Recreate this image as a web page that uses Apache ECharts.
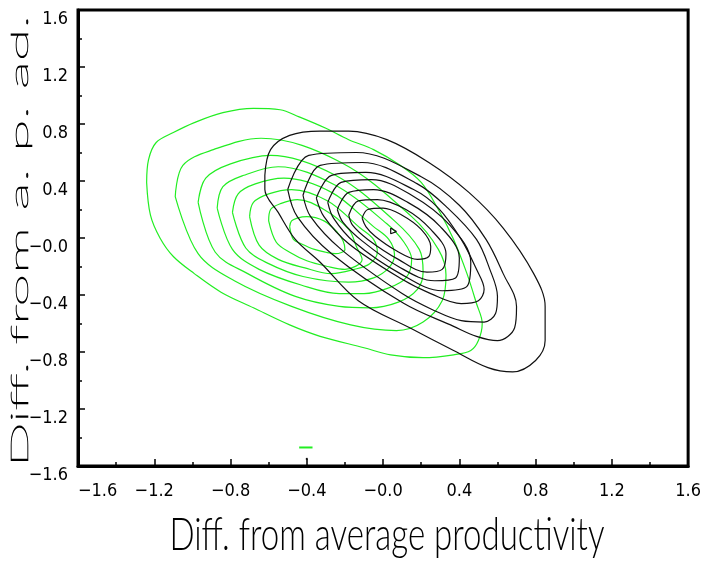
<!DOCTYPE html>
<html>
<head>
<meta charset="utf-8">
<script src="https://cdn.jsdelivr.net/npm/echarts@6/dist/echarts.min.js"></script>
<style>
  html, body { margin: 0; padding: 0; background: #fff; }
  #chart { width: 704px; height: 561px; }
</style>
</head>
<body>
<div id="chart"></div>
<script>
// tick labels of both axes
const xTickLabels = ['−1.6', '−1.2', '−0.8', '−0.4', '−0.0', '0.4', '0.8', '1.2', '1.6']
const yTickLabels = ['−1.6', '−1.2', '−0.8', '−0.4', '−0.0', '0.4', '0.8', '1.2', '1.6']

// green contours, outer to inner  [x, y]
const green1 = [[-1.24,0.39],[-1.23,0.55],[-1.19,0.67],[-1.10,0.74],[-0.99,0.81],[-0.84,0.88],[-0.68,0.91],[-0.54,0.90],[-0.44,0.85],[-0.30,0.77],[-0.18,0.69],[-0.05,0.62],[0.09,0.51],[0.20,0.39],[0.29,0.20],[0.37,-0.01],[0.44,-0.25],[0.49,-0.46],[0.52,-0.60],[0.50,-0.72],[0.46,-0.79],[0.37,-0.82],[0.21,-0.84],[0.04,-0.82],[-0.10,-0.77],[-0.33,-0.69],[-0.49,-0.61],[-0.68,-0.49],[-0.85,-0.38],[-0.99,-0.25],[-1.10,-0.13],[-1.17,0.00],[-1.22,0.16]]
const green2 = [[-1.09,0.29],[-1.05,0.51],[-0.89,0.62],[-0.64,0.70],[-0.22,0.53],[0.15,0.15],[0.29,-0.08],[0.33,-0.26],[0.31,-0.44],[0.21,-0.59],[0.07,-0.65],[-0.17,-0.61],[-0.48,-0.48],[-0.78,-0.30],[-0.97,-0.11]]
const green3 = [[-0.97,0.25],[-0.93,0.42],[-0.80,0.52],[-0.59,0.58],[-0.25,0.44],[0.06,0.12],[0.19,-0.08],[0.21,-0.24],[0.18,-0.36],[0.08,-0.45],[-0.07,-0.49],[-0.23,-0.48],[-0.46,-0.41],[-0.71,-0.25],[-0.88,-0.10]]
const green4 = [[-0.87,0.21],[-0.84,0.36],[-0.73,0.44],[-0.55,0.50],[-0.25,0.37],[0.02,0.10],[0.11,-0.03],[0.15,-0.15],[0.12,-0.28],[0.03,-0.35],[-0.10,-0.39],[-0.23,-0.39],[-0.43,-0.33],[-0.65,-0.22],[-0.79,-0.08]]
const green5 = [[-0.79,0.18],[-0.76,0.31],[-0.67,0.38],[-0.52,0.42],[-0.27,0.32],[-0.05,0.08],[0.03,-0.01],[0.06,-0.12],[0.03,-0.21],[-0.05,-0.28],[-0.18,-0.31],[-0.42,-0.27],[-0.60,-0.18],[-0.72,-0.07]]
const green6 = [[-0.70,0.15],[-0.68,0.25],[-0.60,0.31],[-0.48,0.34],[-0.29,0.26],[-0.12,0.07],[-0.05,-0.01],[-0.03,-0.10],[-0.07,-0.18],[-0.15,-0.22],[-0.27,-0.25],[-0.41,-0.21],[-0.55,-0.15],[-0.65,-0.05]]
const green7 = [[-0.60,0.12],[-0.59,0.20],[-0.54,0.24],[-0.45,0.27],[-0.31,0.20],[-0.18,0.06],[-0.14,-0.06],[-0.11,-0.15],[-0.20,-0.22],[-0.29,-0.20],[-0.40,-0.16],[-0.49,-0.10],[-0.56,-0.03]]
const green8 = [[-0.49,0.08],[-0.48,0.12],[-0.45,0.14],[-0.40,0.15],[-0.31,0.12],[-0.24,0.04],[-0.21,-0.02],[-0.20,-0.08],[-0.25,-0.11],[-0.30,-0.10],[-0.36,-0.08],[-0.43,-0.04],[-0.47,-0.01]]
const greenDash = [[-0.44,-1.47],[-0.37,-1.47]]

// black contours, outer to inner
const black1 = [[-0.62,0.44],[-0.59,0.62],[-0.49,0.72],[-0.33,0.75],[-0.18,0.75],[0.02,0.69],[0.24,0.53],[0.45,0.32],[0.63,0.07],[0.79,-0.25],[0.85,-0.48],[0.85,-0.72],[0.80,-0.86],[0.68,-0.94],[0.55,-0.91],[0.37,-0.79],[0.14,-0.63],[-0.13,-0.44],[-0.33,-0.17],[-0.46,-0.01],[-0.55,0.18],[-0.62,0.34]]
const black2 = [[-0.50,0.34],[-0.39,0.58],[-0.14,0.60],[0.20,0.43],[0.40,0.23],[0.54,-0.01],[0.63,-0.25],[0.70,-0.48],[0.69,-0.63],[0.60,-0.72],[0.49,-0.69],[0.37,-0.62],[0.11,-0.46],[-0.27,-0.11],[-0.45,0.15]]
const black3 = [[-0.42,0.30],[-0.33,0.51],[-0.11,0.53],[0.18,0.38],[0.34,0.21],[0.49,-0.01],[0.56,-0.22],[0.60,-0.41],[0.59,-0.53],[0.53,-0.59],[0.41,-0.58],[0.27,-0.51],[0.10,-0.39],[-0.22,-0.08],[-0.38,0.15]]
const black4 = [[-0.35,0.28],[-0.27,0.44],[-0.09,0.46],[0.16,0.34],[0.29,0.21],[0.41,-0.01],[0.49,-0.22],[0.53,-0.36],[0.50,-0.44],[0.41,-0.46],[0.25,-0.39],[0.10,-0.29],[-0.18,-0.04],[-0.31,0.15]]
const black5 = [[-0.29,0.25],[-0.22,0.39],[-0.06,0.41],[0.15,0.30],[0.35,0.09],[0.46,-0.17],[0.44,-0.34],[0.31,-0.37],[0.09,-0.25],[-0.15,-0.03],[-0.26,0.14]]
const black6 = [[-0.24,0.20],[-0.18,0.32],[-0.05,0.34],[0.13,0.25],[0.30,0.08],[0.40,-0.14],[0.38,-0.28],[0.27,-0.30],[0.08,-0.20],[-0.11,-0.02],[-0.21,0.11]]
const black7 = [[-0.18,0.16],[-0.13,0.26],[-0.03,0.27],[0.12,0.20],[0.25,0.06],[0.33,-0.11],[0.31,-0.22],[0.23,-0.24],[0.08,-0.15],[-0.08,-0.01],[-0.16,0.09]]
const black8 = [[-0.11,0.14],[-0.08,0.20],[0.00,0.21],[0.10,0.16],[0.20,0.06],[0.25,-0.06],[0.24,-0.13],[0.18,-0.15],[0.07,-0.09],[-0.04,0.01],[-0.09,0.08]]
const blackPeak = [[0.04,0.07],[0.07,0.045],[0.04,0.03]]
const blackDot = [[-0.405,-1.55],[-0.395,-1.55]]

const greenRings = [green1, green2, green3, green4, green5, green6, green7, green8]
const blackRings = [black1, black2, black3, black4, black5, black6, black7, black8]

const GREEN = '#22ee22'
const BLACK = '#111111'

const chart = echarts.init(document.getElementById('chart'))

const closeRing = d => d.concat([d[0]])

const ringSeries = (d, color, smooth) => ({
  type: 'line',
  data: closeRing(d),
  showSymbol: false,
  smooth: smooth,
  lineStyle: { color: color, width: 1.2 },
  silent: true
})

// stretched titles: measure natural width, then scale to the reference length
const measure = (text, font) => {
  const ctx = document.createElement('canvas').getContext('2d')
  ctx.font = font
  return ctx.measureText(text).width
}
const xTitle = 'Diff. from average productivity'
const yTitle = 'Diff. from a. p. ad.'
const titleFont = 'Lato, "DejaVu Sans", sans-serif'
const xTitleScale = 435 / measure(xTitle, '300 46px ' + titleFont)
const yTitleScale = 452 / measure(yTitle, '100 24px ' + titleFont)

const tickFont = '"Liberation Sans Narrow", "DejaVu Sans Condensed", "Roboto Condensed", sans-serif'

const option = {
  animation: false,
  backgroundColor: '#fff',
  grid: {
    left: 78, top: 10, width: 613, height: 456,
    show: true, borderColor: '#000', borderWidth: 3
  },
  xAxis: {
    type: 'value',
    min: -1.6, max: 1.6, interval: 0.4,
    axisLine: { show: true, onZero: false, lineStyle: { color: '#000', width: 3 } },
    axisTick: { show: true, inside: true, length: 7, lineStyle: { color: '#000', width: 1.5 } },
    minorTick: { show: true, splitNumber: 2, length: 4, lineStyle: { color: '#000', width: 1.5 } },
    splitLine: { show: false },
    axisLabel: {
      margin: 16,
      color: '#000',
      fontSize: 18,
      fontFamily: tickFont,
      alignMinLabel: 'left',
      formatter: v => xTickLabels[Math.round((v + 1.6) / 0.4)]
    }
  },
  yAxis: {
    type: 'value',
    min: -1.6, max: 1.6, interval: 0.4,
    axisLine: { show: true, onZero: false, lineStyle: { color: '#000', width: 3 } },
    axisTick: { show: true, inside: true, length: 7, lineStyle: { color: '#000', width: 1.5 } },
    minorTick: { show: true, splitNumber: 2, length: 4, lineStyle: { color: '#000', width: 1.5 } },
    splitLine: { show: false },
    axisLabel: {
      margin: 10,
      color: '#000',
      fontSize: 18,
      fontFamily: tickFont,
      verticalAlign: 'top',
      formatter: v => yTickLabels[Math.round((v + 1.6) / 0.4)]
    }
  },
  graphic: [
    {
      type: 'text',
      x: 387, y: 535,
      scaleX: xTitleScale,
      style: {
        text: xTitle,
        fontSize: 46, fontWeight: 300, fontFamily: titleFont,
        fill: '#000', align: 'center', verticalAlign: 'middle'
      }
    },
    {
      type: 'text',
      x: 20, y: 241,
      rotation: Math.PI / 2,
      scaleX: yTitleScale,
      style: {
        text: yTitle,
        fontSize: 24, fontWeight: 100, fontFamily: titleFont,
        fill: '#000', stroke: '#000', lineWidth: 0.6,
        align: 'center', verticalAlign: 'middle'
      }
    }
  ],
  series: [
    ...greenRings.map(d => ringSeries(d, GREEN, 0.35)),
    { type: 'line', data: greenDash, showSymbol: false, lineStyle: { color: GREEN, width: 2 }, silent: true },
    ...blackRings.map(d => ringSeries(d, BLACK, 0.35)),
    ringSeries(blackPeak, BLACK, false),
    { type: 'line', data: blackDot, showSymbol: false, lineStyle: { color: BLACK, width: 2 }, silent: true }
  ]
}

chart.setOption(option)
</script>
</body>
</html>
